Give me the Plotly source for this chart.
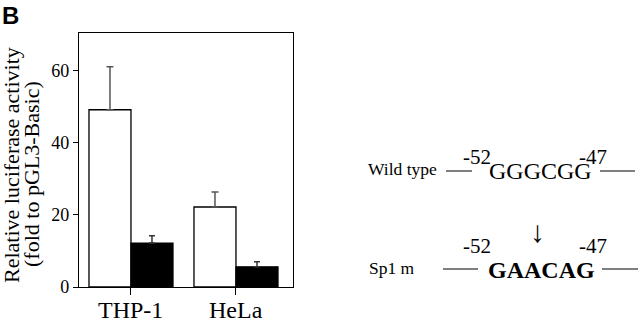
import plotly.graph_objects as go

# ---- data ----
categories = ["THP-1", "HeLa"]
wild_values = [49.2, 22.2]
wild_err = [11.9, 4.2]
mut_values = [12.2, 5.6]
mut_err = [2.0, 1.4]
y_ticks = [0, 20, 40, 60]

W, H = 640, 323
L, R, T, B = 79, 293, 33, 287  # plot area in px

def px(x):
    return (x - L) / (R - L)

def py(y):
    return (B - y) / (B - T)

SERIF = "Liberation Serif"

fig = go.Figure()
fig.add_trace(go.Bar(
    x=categories, y=wild_values, name="Wild type",
    marker=dict(color="white", line=dict(color="black", width=1.3)),
    error_y=dict(type="data", array=wild_err, arrayminus=[0, 0], symmetric=False,
                 color="#555555", thickness=1.5, width=3.5),
))
fig.add_trace(go.Bar(
    x=categories, y=mut_values, name="Sp1 m",
    marker=dict(color="black", line=dict(color="black", width=1.3)),
    error_y=dict(type="data", array=mut_err, arrayminus=[0, 0], symmetric=False,
                 color="#333333", thickness=1.5, width=3),
))

ann = []
# category labels under the axis
for c in categories:
    ann.append(dict(text=c, x=c, xref="x", y=py(310), yref="paper", showarrow=False,
                    font=dict(family=SERIF, size=24, color="black"),
                    xanchor="center", yanchor="middle"))
# y-axis title (two lines)
ann.append(dict(text="Relative luciferase activity", x=px(11), y=py(165), xref="paper", yref="paper",
                textangle=-90, showarrow=False, font=dict(family=SERIF, size=22, color="black"),
                xanchor="center", yanchor="middle"))
ann.append(dict(text="(fold to pGL3-Basic)", x=px(31), y=py(174), xref="paper", yref="paper",
                textangle=-90, showarrow=False, font=dict(family=SERIF, size=22, color="black"),
                xanchor="center", yanchor="middle"))
# panel letter
ann.append(dict(text="<b>B</b>", x=px(0), y=py(0), xref="paper", yref="paper", showarrow=False,
                font=dict(family="Liberation Sans", size=24, color="black"),
                xanchor="left", yanchor="top"))

def txt(t, x, y, size, anchor="center"):
    ann.append(dict(text=t, x=px(x), y=py(y), xref="paper", yref="paper", showarrow=False,
                    font=dict(family=SERIF, size=size, color="black"),
                    xanchor=anchor, yanchor="middle"))

# Wild type row
txt("Wild type", 402, 169, 17.5)
txt("-52", 477, 157, 21)
txt("-47", 593, 157, 21)
txt("GGGCGG", 540, 171, 24)
# arrow
txt("\u2193", 537, 231, 30)
# Sp1 m row
txt("Sp1 m", 392, 268, 17.5)
txt("-52", 477, 246, 21)
txt("-47", 593, 246, 21)
txt("<b>GAACAG</b>", 541, 270, 24)

shapes = []
for x0, x1, y in [(446, 472, 171), (600, 635, 171), (443, 478, 269), (602, 638, 269)]:
    shapes.append(dict(type="line", xref="paper", yref="paper", x0=px(x0), x1=px(x1),
                       y0=py(y), y1=py(y), line=dict(color="black", width=1)))

fig.update_layout(
    width=W, height=H,
    margin=dict(l=L, r=W - R, t=T, b=H - B, pad=0),
    paper_bgcolor="white", plot_bgcolor="white",
    showlegend=False,
    barmode="group", bargap=0.2, bargroupgap=0,
    annotations=ann, shapes=shapes,
    font=dict(family=SERIF, color="black"),
)
fig.update_xaxes(
    range=[-0.495, 1.543], showline=True, linecolor="black", linewidth=1.2, mirror=True,
    ticks="outside", ticklen=7, tickcolor="black", tickwidth=1.2, automargin=False,
    showticklabels=False, showgrid=False, zeroline=False,
)
fig.update_yaxes(
    range=[0, 70.5], tickvals=y_ticks, showline=True, linecolor="black", linewidth=1.2, mirror=True,
    ticks="outside", ticklen=5, tickcolor="black", tickwidth=1.2, automargin=False,
    tickfont=dict(family=SERIF, size=18, color="black"), showgrid=False, zeroline=False,
)

fig.write_html("out.html", config={"displayModeBar": False},
               post_script="document.body.style.margin='0';document.body.style.overflow='hidden';")
